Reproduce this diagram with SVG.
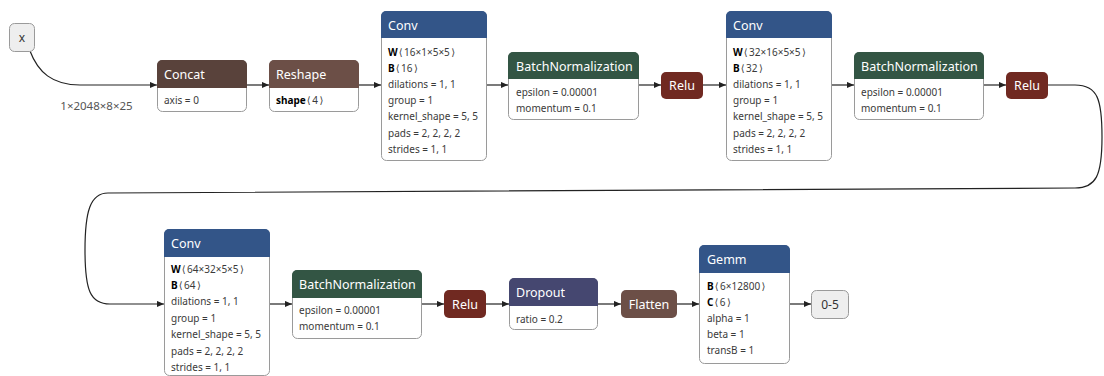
<svg xmlns="http://www.w3.org/2000/svg" width="1104" height="376" viewBox="0 0 1104 376">
<style>
.bg{fill:#fff}
.box{fill:#fff;stroke:#9a9a9a;stroke-width:1}
.io{fill:#eeeeee;stroke:#9a9a9a;stroke-width:1}
.conv{fill:#335588}
.bn{fill:#335544}
.relu{fill:#702921}
.concat{fill:#59423b}
.reshape{fill:#6c4f47}
.drop{fill:#454770}
.ht{fill:#fff;font-family:"Noto Sans","Open Sans",sans-serif;font-size:12.5px}
.bt{fill:#3a3a3a;font-family:"Noto Sans","Open Sans",sans-serif;font-size:10px}
.b{font-weight:bold;fill:#000}
.ab{font-family:"DejaVu Sans","Noto Sans",sans-serif;font-size:10px}
.iot{fill:#333;font-family:"Noto Sans","Open Sans",sans-serif;font-size:12px;text-anchor:middle}
.lbl{fill:#555;font-family:"Noto Sans","Open Sans",sans-serif;font-size:11.5px;text-anchor:middle}
.edge{fill:none;stroke:#222;stroke-width:1.2}
</style>
<defs>
<marker id="arr" viewBox="0 0 8 8" refX="8" refY="4" markerWidth="7" markerHeight="7" markerUnits="userSpaceOnUse" orient="auto">
<path d="M0,0.5 L8,4 L0,7.5 z" fill="#222"/>
</marker>
</defs>
<rect class="bg" x="0" y="0" width="1104" height="376"/>
<g id="edges">
<path class="edge" marker-end="url(#arr)" d="M30,51 C38,72 52,85 80,85 L157,85"/>
<path class="edge" marker-end="url(#arr)" d="M246,85 L269,85"/>
<path class="edge" marker-end="url(#arr)" d="M358,85 L381,85"/>
<path class="edge" marker-end="url(#arr)" d="M486,85 L508,85"/>
<path class="edge" marker-end="url(#arr)" d="M638,85 L661,85"/>
<path class="edge" marker-end="url(#arr)" d="M703,85 L726,85"/>
<path class="edge" marker-end="url(#arr)" d="M831,85 L854,85"/>
<path class="edge" marker-end="url(#arr)" d="M983,85 L1006,85"/>
<path class="edge" marker-end="url(#arr)" d="M1048,85 L1075,85 C1098,85 1102,100 1102,137 C1102,176 1096,188 1075,188 L108,193 C90,193 85,212 85,250 C85,290 90,304 110,304 L164,304"/>
<path class="edge" marker-end="url(#arr)" d="M269,304 L292,304"/>
<path class="edge" marker-end="url(#arr)" d="M421,304 L444,304"/>
<path class="edge" marker-end="url(#arr)" d="M486,304 L509,304"/>
<path class="edge" marker-end="url(#arr)" d="M597,304 L621,304"/>
<path class="edge" marker-end="url(#arr)" d="M677,304 L699,304"/>
<path class="edge" marker-end="url(#arr)" d="M789,304 L811,304"/>
<text class="lbl" x="96.5" y="109.5">1×2048×8×25</text>
</g>
<g id="input-x">
<rect class="io" x="9.5" y="23.5" width="25" height="28" rx="5"/>
<text class="iot" x="22" y="41.5">x</text>
</g>
<g id="concat">
<rect class="box" x="157.5" y="60.5" width="89" height="51" rx="5"/>
<path class="concat" d="M157,88 V65 A5,5 0 0 1 162,60 H242 A5,5 0 0 1 247,65 V88 Z"/>
<text class="ht" x="164" y="79">Concat</text>
<text class="bt" x="164" y="103.5">axis = 0</text>
</g>
<g id="reshape">
<rect class="box" x="269.5" y="60.5" width="89" height="51" rx="5"/>
<path class="reshape" d="M269,88 V65 A5,5 0 0 1 274,60 H354 A5,5 0 0 1 359,65 V88 Z"/>
<text class="ht" x="276" y="79">Reshape</text>
<text class="bt" x="276" y="103.5"><tspan class="b">shape</tspan><tspan class="ab" dx="1">⟨</tspan><tspan dx="1.5">4</tspan><tspan class="ab" dx="1.5">⟩</tspan></text>
</g>
<g id="conv1">
<rect class="box" x="381.5" y="11.5" width="105" height="149" rx="5"/>
<path class="conv" d="M381,38 V16 A5,5 0 0 1 386,11 H482 A5,5 0 0 1 487,16 V38 Z"/>
<text class="ht" x="388" y="29.5">Conv</text>
<text class="bt" x="388" y="55.5"><tspan class="b">W</tspan><tspan class="ab" dx="1">⟨</tspan><tspan dx="1.5">16×1×5×5</tspan><tspan class="ab" dx="1.5">⟩</tspan></text>
<text class="bt" x="388" y="71.7"><tspan class="b">B</tspan><tspan class="ab" dx="1">⟨</tspan><tspan dx="1.5">16</tspan><tspan class="ab" dx="1.5">⟩</tspan></text>
<text class="bt" x="388" y="87.9">dilations = 1, 1</text>
<text class="bt" x="388" y="104.1">group = 1</text>
<text class="bt" x="388" y="120.3">kernel_shape = 5, 5</text>
<text class="bt" x="388" y="136.5">pads = 2, 2, 2, 2</text>
<text class="bt" x="388" y="152.7">strides = 1, 1</text>
</g>
<g id="bn1">
<rect class="box" x="508.5" y="52.5" width="130" height="67" rx="5"/>
<path class="bn" d="M508,79 V57 A5,5 0 0 1 513,52 H634 A5,5 0 0 1 639,57 V79 Z"/>
<text class="ht" x="516" y="70.5">BatchNormalization</text>
<text class="bt" x="516" y="95.5">epsilon = 0.00001</text>
<text class="bt" x="516" y="111.7">momentum = 0.1</text>
</g>
<g id="relu1">
<rect class="relu" x="661" y="72" width="42" height="27" rx="5"/>
<text class="ht" x="682" y="90" text-anchor="middle">Relu</text>
</g>
<g id="conv2">
<rect class="box" x="726.5" y="11.5" width="105" height="149" rx="5"/>
<path class="conv" d="M726,38 V16 A5,5 0 0 1 731,11 H827 A5,5 0 0 1 832,16 V38 Z"/>
<text class="ht" x="733" y="29.5">Conv</text>
<text class="bt" x="733" y="55.5"><tspan class="b">W</tspan><tspan class="ab" dx="1">⟨</tspan><tspan dx="1.5">32×16×5×5</tspan><tspan class="ab" dx="1.5">⟩</tspan></text>
<text class="bt" x="733" y="71.7"><tspan class="b">B</tspan><tspan class="ab" dx="1">⟨</tspan><tspan dx="1.5">32</tspan><tspan class="ab" dx="1.5">⟩</tspan></text>
<text class="bt" x="733" y="87.9">dilations = 1, 1</text>
<text class="bt" x="733" y="104.1">group = 1</text>
<text class="bt" x="733" y="120.3">kernel_shape = 5, 5</text>
<text class="bt" x="733" y="136.5">pads = 2, 2, 2, 2</text>
<text class="bt" x="733" y="152.7">strides = 1, 1</text>
</g>
<g id="bn2">
<rect class="box" x="854.5" y="52.5" width="129" height="67" rx="5"/>
<path class="bn" d="M854,79 V57 A5,5 0 0 1 859,52 H979 A5,5 0 0 1 984,57 V79 Z"/>
<text class="ht" x="861" y="70.5">BatchNormalization</text>
<text class="bt" x="861" y="95.5">epsilon = 0.00001</text>
<text class="bt" x="861" y="111.7">momentum = 0.1</text>
</g>
<g id="relu2">
<rect class="relu" x="1006" y="72" width="42" height="27" rx="5"/>
<text class="ht" x="1027" y="90" text-anchor="middle">Relu</text>
</g>
<g id="conv3">
<rect class="box" x="164.5" y="229.5" width="105" height="146" rx="5"/>
<path class="conv" d="M164,257 V234 A5,5 0 0 1 169,229 H265 A5,5 0 0 1 270,234 V257 Z"/>
<text class="ht" x="171" y="247.5">Conv</text>
<text class="bt" x="171" y="272.5"><tspan class="b">W</tspan><tspan class="ab" dx="1">⟨</tspan><tspan dx="1.5">64×32×5×5</tspan><tspan class="ab" dx="1.5">⟩</tspan></text>
<text class="bt" x="171" y="288.9"><tspan class="b">B</tspan><tspan class="ab" dx="1">⟨</tspan><tspan dx="1.5">64</tspan><tspan class="ab" dx="1.5">⟩</tspan></text>
<text class="bt" x="171" y="305.3">dilations = 1, 1</text>
<text class="bt" x="171" y="321.7">group = 1</text>
<text class="bt" x="171" y="338.1">kernel_shape = 5, 5</text>
<text class="bt" x="171" y="354.5">pads = 2, 2, 2, 2</text>
<text class="bt" x="171" y="370.9">strides = 1, 1</text>
</g>
<g id="bn3">
<rect class="box" x="292.5" y="270.5" width="129" height="68" rx="5"/>
<path class="bn" d="M292,298 V275 A5,5 0 0 1 297,270 H417 A5,5 0 0 1 422,275 V298 Z"/>
<text class="ht" x="299" y="288.5">BatchNormalization</text>
<text class="bt" x="299" y="313.5">epsilon = 0.00001</text>
<text class="bt" x="299" y="330">momentum = 0.1</text>
</g>
<g id="relu3">
<rect class="relu" x="444" y="290" width="42" height="28" rx="5"/>
<text class="ht" x="465" y="308.5" text-anchor="middle">Relu</text>
</g>
<g id="dropout">
<rect class="box" x="509.5" y="278.5" width="88" height="51" rx="5"/>
<path class="drop" d="M509,306 V283 A5,5 0 0 1 514,278 H593 A5,5 0 0 1 598,283 V306 Z"/>
<text class="ht" x="516" y="297">Dropout</text>
<text class="bt" x="516" y="322.5">ratio = 0.2</text>
</g>
<g id="flatten">
<rect class="reshape" x="621" y="290" width="56" height="28" rx="5"/>
<text class="ht" x="649" y="308.5" text-anchor="middle">Flatten</text>
</g>
<g id="gemm">
<rect class="box" x="699.5" y="245.5" width="90" height="118" rx="5"/>
<path class="conv" d="M699,273 V250 A5,5 0 0 1 704,245 H785 A5,5 0 0 1 790,250 V273 Z"/>
<text class="ht" x="707" y="263.5">Gemm</text>
<text class="bt" x="707" y="289.5"><tspan class="b">B</tspan><tspan class="ab" dx="1">⟨</tspan><tspan dx="1.5">6×12800</tspan><tspan class="ab" dx="1.5">⟩</tspan></text>
<text class="bt" x="707" y="305.7"><tspan class="b">C</tspan><tspan class="ab" dx="1">⟨</tspan><tspan dx="1.5">6</tspan><tspan class="ab" dx="1.5">⟩</tspan></text>
<text class="bt" x="707" y="321.9">alpha = 1</text>
<text class="bt" x="707" y="338.1">beta = 1</text>
<text class="bt" x="707" y="354.3">transB = 1</text>
</g>
<g id="output">
<rect class="io" x="811.5" y="290.5" width="37" height="28" rx="5"/>
<text class="iot" x="830" y="308.5">0-5</text>
</g>
</svg>
